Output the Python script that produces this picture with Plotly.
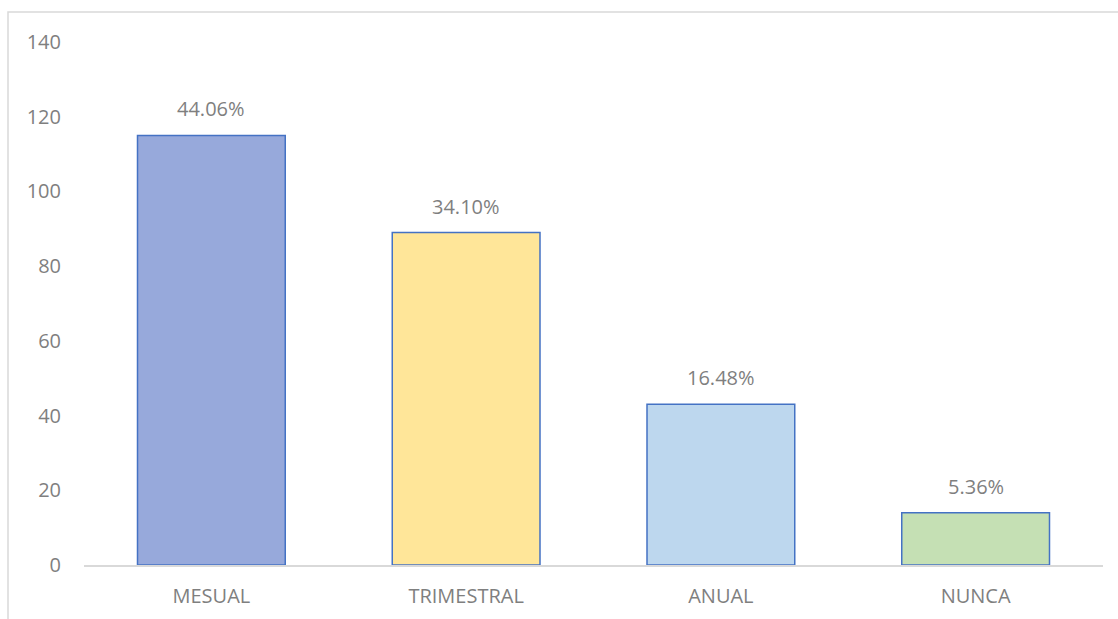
import plotly.graph_objects as go

categories = ["MESUAL", "TRIMESTRAL", "ANUAL", "NUNCA"]
counts = [115, 89, 43, 14]
pct_labels = ["44.06%", "34.10%", "16.48%", "5.36%"]
fill_colors = ["#97A9DB", "#FFE699", "#BDD7EE", "#C5E0B4"]
y_ticks = [0, 20, 40, 60, 80, 100, 120, 140]

W, H = 1118, 619
L, R, T, B = 84, 15, 42, 54
pw, ph = W - L - R, H - T - B
FS = 20
TXT = "#7F7F7F"

fig = go.Figure(go.Bar(
    x=categories, y=counts,
    marker=dict(color=fill_colors, line=dict(color="#4472C4", width=1.5)),
    width=0.58,
    cliponaxis=False,
))

for c, v, t in zip(categories, counts, pct_labels):
    fig.add_annotation(x=c, y=v, text=t, showarrow=False, yanchor="bottom",
                       yshift=11, font=dict(family="Open Sans", size=FS, color=TXT))

def px(x):
    return (x - L) / pw

def py(y):
    return (H - B - y) / ph

fig.update_layout(
    width=W, height=H,
    margin=dict(l=L, r=R, t=T, b=B),
    paper_bgcolor="white", plot_bgcolor="white",
    showlegend=False,
    font=dict(family="Open Sans", size=FS, color=TXT),
    xaxis=dict(showgrid=False, showline=True, linecolor="#D9D9D9", linewidth=1.5,
               ticks="", tickfont=dict(size=FS, color=TXT), ticklabelstandoff=12,
               automargin=False),
    yaxis=dict(range=[0, 140], tickvals=y_ticks, showgrid=False, zeroline=False,
               showline=False, ticks="", tickfont=dict(size=FS, color=TXT),
               ticklabelstandoff=22, automargin=False),
    shapes=[dict(type="rect", xref="paper", yref="paper",
                 x0=px(8), x1=px(1130), y0=py(630), y1=py(12),
                 line=dict(color="#D9D9D9", width=1.5), layer="below")],
)

fig.write_html("out.html")
